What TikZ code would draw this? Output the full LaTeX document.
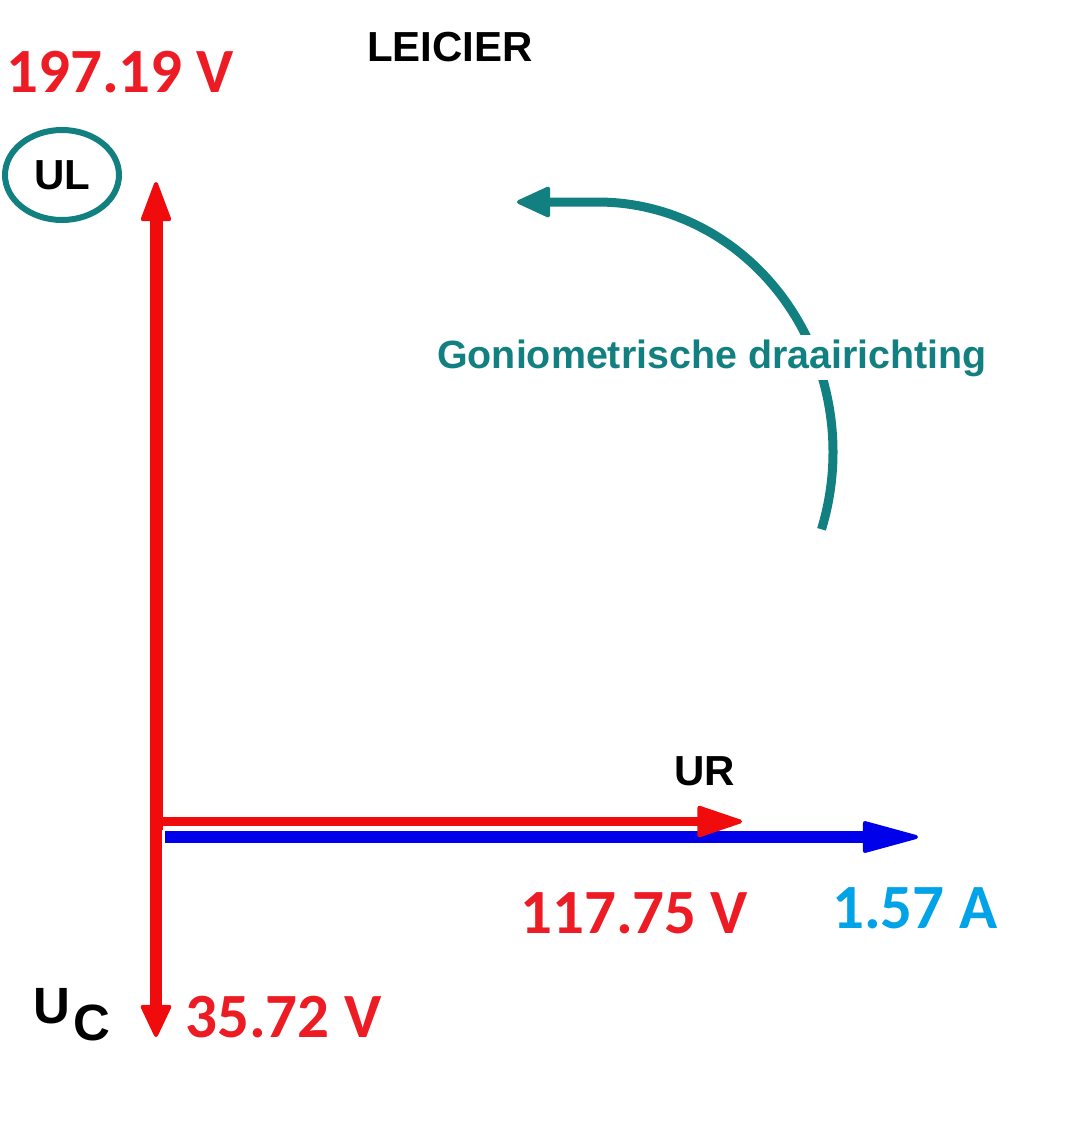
\documentclass[tikz,border=0pt]{standalone}
\usepackage{fontspec}
\setmainfont{Liberation Sans}
\newfontfamily\numfont{Carlito}
\usetikzlibrary{arrows.meta,shapes.geometric}
\definecolor{arrowred}{RGB}{240,12,12}
\definecolor{textred}{RGB}{237,28,36}
\definecolor{arrowblue}{RGB}{0,0,235}
\definecolor{tealc}{RGB}{18,128,128}
\definecolor{cyanc}{RGB}{0,162,232}
\begin{document}
\begin{tikzpicture}[x=1pt,y=-1pt,
  valuelbl/.style={font=\numfont\bfseries\fontsize{63}{63}\selectfont, text=textred, inner sep=0pt, anchor=base west},
  namelbl/.style={font=\bfseries\fontsize{42}{42}\selectfont, text=black, inner sep=0pt},
  redvec/.style={arrowred, line width=#1},
]
\fill[white] (0,0) rectangle (1071,1126);
\useasboundingbox (0,0) rectangle (1071,1126);

% coordinates
\coordinate (O) at (156,830);
\coordinate (ULtip) at (156,182);
\coordinate (UCtip) at (156,1037);
\coordinate (URs) at (158,821.5);
\coordinate (URtip) at (742,821.5);
\coordinate (Is) at (165,837);
\coordinate (Itip) at (918,837);
\coordinate (arcS) at (821.5,529.3);
\coordinate (tealtip) at (517,202);

% vectors
\draw[redvec=13pt, -{Triangle[length=43pt,width=31pt,line width=4pt,round]}] (O) -- (ULtip);
\draw[redvec=12pt, -{Triangle[length=35pt,width=32pt,line width=4pt,round]}] (O) -- (UCtip);
\draw[arrowblue, line width=12pt, -{Triangle[length=61pt,width=32pt,line width=4pt,round]}] (Is) -- (Itip);
\draw[redvec=9pt, -{Triangle[length=49pt,width=32pt,line width=4pt,round]}] (URs) -- (URtip);

% rotation arrow
\draw[tealc, line width=9pt, -{Triangle[length=36pt,width=32pt,line width=4pt,round]}]
  (arcS) arc[start angle=18, end angle=-90, x radius=235, y radius=250] -- (tealtip);

\node (gonio) [fill=white, inner xsep=2pt, inner ysep=4pt, anchor=base west,
  font=\bfseries\fontsize{39.4}{39.4}\selectfont, text=tealc] at (435,368) {Goniometrische draairichting};

% labels
\node (leicier) [namelbl, anchor=base west] at (367,62) {LEICIER};
\node (UL) [namelbl, draw=tealc, line width=6pt, ellipse, minimum width=114pt, minimum height=90pt] at (62,175) {UL};
\node (UR) [namelbl, anchor=base west] at (674,785) {UR};
\node (UC) [font=\bfseries\fontsize{51}{51}\selectfont, inner sep=0pt, anchor=base west] at (33,1023) {U\kern3pt\raisebox{-17pt}{C}};

\node (vUL) [valuelbl] at (6,93) {197.19 V};
\node (vUR) [valuelbl] at (520,933) {117.75 V};
\node (vI) [valuelbl, text=cyanc] at (832,928) {1.57 A};
\node (vUC) [valuelbl] at (185,1037) {35.72 V};
\end{tikzpicture}
\end{document}
